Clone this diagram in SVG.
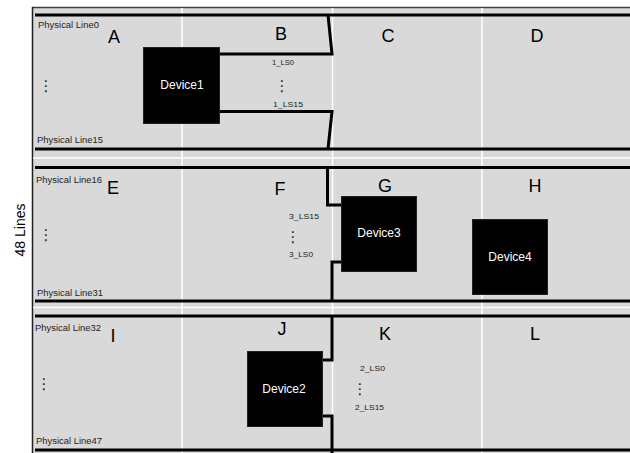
<svg xmlns="http://www.w3.org/2000/svg" width="630" height="453" viewBox="0 0 630 453">
<style>
.bg{fill:#d9d9d9}
.wl{stroke:#ffffff;stroke-width:1.5;fill:none}
.th{stroke:#000;stroke-width:3;fill:none}
.cn{stroke:#000;stroke-width:3;fill:none;stroke-linejoin:miter}
.dev{fill:#000;stroke:#222;stroke-width:1}
.dt{font-family:"Liberation Sans",Arial,sans-serif;font-size:12px;fill:#fff;text-anchor:middle}
.big{font-family:"Liberation Sans",Arial,sans-serif;font-size:18px;fill:#000;text-anchor:middle}
.pl{font-family:"Liberation Sans",Arial,sans-serif;font-size:8.5px;fill:#222}
.ls{font-family:"Liberation Sans",Arial,sans-serif;font-size:8px;fill:#222}
.dots{font-family:"DejaVu Sans",sans-serif;font-size:15px;fill:#222;text-anchor:middle}
</style>
<rect x="0" y="0" width="630" height="453" fill="#fff"/>
<g id="frame">
<rect class="bg" x="32" y="8" width="600" height="447"/>
<line x1="32" y1="7.5" x2="630" y2="7.5" stroke="#404040" stroke-width="1.5"/>
<line x1="32.5" y1="7" x2="32.5" y2="453" stroke="#202020" stroke-width="1.5"/>
<line class="wl" x1="33" y1="158" x2="630" y2="158"/>
<line class="wl" x1="33" y1="307.5" x2="630" y2="307.5"/>
<line class="wl" x1="182" y1="8" x2="182" y2="453"/>
<line class="wl" x1="332.5" y1="8" x2="332.5" y2="453"/>
<line class="wl" x1="482" y1="8" x2="482" y2="453"/>
<line class="th" x1="35" y1="15" x2="630" y2="15"/>
<line class="th" x1="35" y1="149" x2="630" y2="149"/>
<line class="th" x1="35" y1="167.5" x2="630" y2="167.5"/>
<line class="th" x1="35" y1="301" x2="630" y2="301"/>
<line class="th" x1="35" y1="316" x2="630" y2="316"/>
<line class="th" x1="35" y1="450" x2="630" y2="450"/>
</g>
<g id="connectors">
<polyline class="cn" points="219,54 332,54 328,15"/>
<polyline class="cn" points="219,111.5 332,111.5 328,149"/>
<polyline class="cn" points="341,205 327.5,205 327.5,167"/>
<polyline class="cn" points="341,262 332,262 332,302"/>
<polyline class="cn" points="322,360 332,360 332,316"/>
<polyline class="cn" points="322,416 332,416 332,453"/>
</g>
<g id="device1"><rect class="dev" x="143.5" y="47.5" width="76" height="76"/><text class="dt" x="182" y="89">Device1</text></g>
<g id="device3"><rect class="dev" x="341.5" y="196.5" width="75" height="75"/><text class="dt" x="379" y="237">Device3</text></g>
<g id="device4"><rect class="dev" x="472.5" y="219.5" width="75" height="75"/><text class="dt" x="510" y="261">Device4</text></g>
<g id="device2"><rect class="dev" x="247.5" y="351.5" width="75" height="75"/><text class="dt" x="284" y="393">Device2</text></g>
<g id="labels">
<text class="big" x="114" y="43">A</text>
<text class="big" x="281" y="40">B</text>
<text class="big" x="388" y="42">C</text>
<text class="big" x="537" y="42">D</text>
<text class="big" x="113" y="194">E</text>
<text class="big" x="280" y="195">F</text>
<text class="big" x="385" y="192">G</text>
<text class="big" x="535" y="192">H</text>
<text class="big" x="113" y="342">I</text>
<text class="big" x="282" y="335">J</text>
<text class="big" x="385" y="340">K</text>
<text class="big" x="535" y="340">L</text>
<text class="pl" x="38" y="28" textLength="61" lengthAdjust="spacingAndGlyphs">Physical  Line0</text>
<text class="pl" x="37" y="143" textLength="66" lengthAdjust="spacingAndGlyphs">Physical  Line15</text>
<text class="pl" x="36" y="183" textLength="66" lengthAdjust="spacingAndGlyphs">Physical  Line16</text>
<text class="pl" x="37" y="296" textLength="66" lengthAdjust="spacingAndGlyphs">Physical  Line31</text>
<text class="pl" x="35" y="331" textLength="66" lengthAdjust="spacingAndGlyphs">Physical  Line32</text>
<text class="pl" x="36" y="444" textLength="66" lengthAdjust="spacingAndGlyphs">Physical  Line47</text>
<text class="ls" x="272" y="65" textLength="22" lengthAdjust="spacingAndGlyphs">1_LS0</text>
<text class="ls" x="273" y="107" textLength="30" lengthAdjust="spacingAndGlyphs">1_LS15</text>
<text class="ls" x="289" y="219" textLength="30" lengthAdjust="spacingAndGlyphs">3_LS15</text>
<text class="ls" x="289" y="257" textLength="24" lengthAdjust="spacingAndGlyphs">3_LS0</text>
<text class="ls" x="360" y="371" textLength="25" lengthAdjust="spacingAndGlyphs">2_LS0</text>
<text class="ls" x="355" y="410" textLength="29" lengthAdjust="spacingAndGlyphs">2_LS15</text>
<text class="dots" x="46" y="91">⋮</text>
<text class="dots" x="282" y="91">⋮</text>
<text class="dots" x="46" y="240">⋮</text>
<text class="dots" x="293" y="242">⋮</text>
<text class="dots" x="44" y="389">⋮</text>
<text class="dots" x="360" y="394">⋮</text>
<text font-family="Liberation Sans, Arial, sans-serif" font-size="14" fill="#000" text-anchor="middle" transform="translate(25,230) rotate(-90)">48 Lines</text>
</g>
</svg>
